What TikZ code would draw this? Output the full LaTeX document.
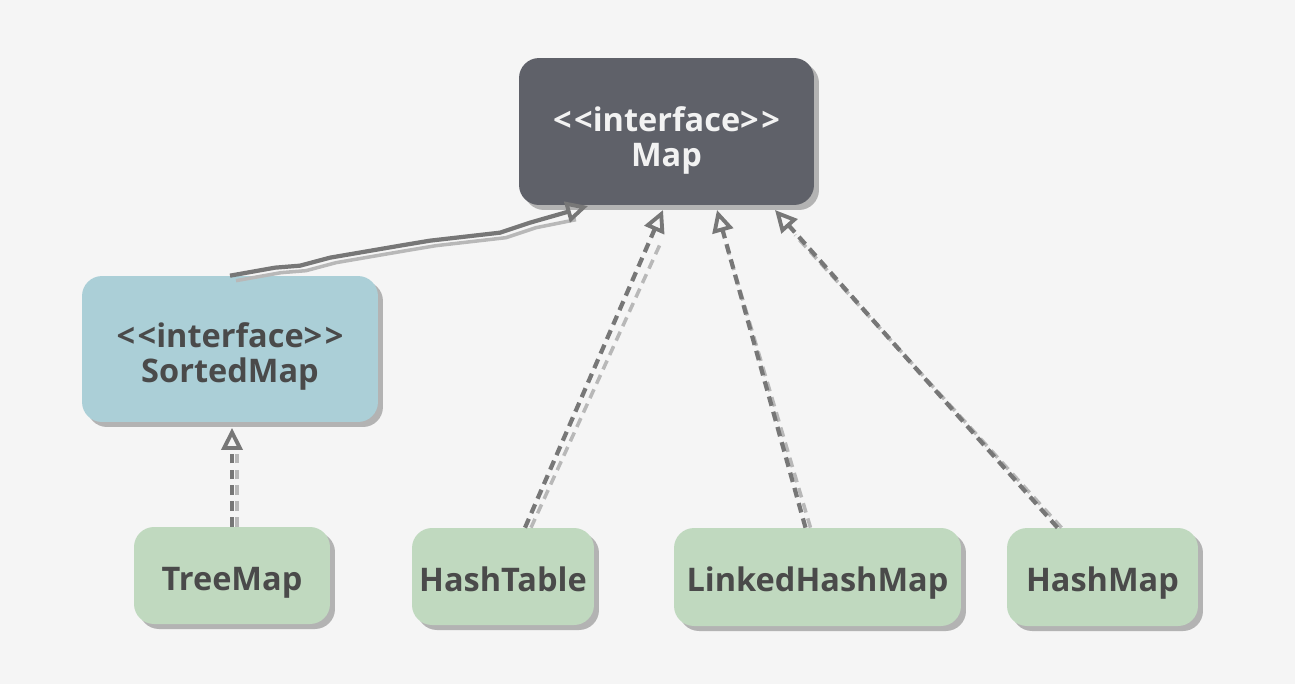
\documentclass[tikz,border=0pt]{standalone}
\usepackage{fontspec}
\setmainfont{Open Sans}
\usetikzlibrary{shadows,arrows.meta}
\definecolor{bg}{HTML}{F5F5F5}
\definecolor{mapfill}{HTML}{5F6169}
\definecolor{sortfill}{HTML}{ABCFD7}
\definecolor{greenfill}{HTML}{C0D9BF}
\definecolor{shade}{HTML}{B3B3B3}
\definecolor{txt}{HTML}{4A4A4A}
\definecolor{wtxt}{HTML}{F2F2F2}
\definecolor{lin}{HTML}{777777}
\definecolor{linshade}{HTML}{B8B8B8}
\newcommand{\lowtext}[2][4.3pt]{\raisebox{-#1}[\height][\depth]{\begin{tabular}{@{}c@{}}#2\end{tabular}}}
\tikzset{
  box/.style={rounded corners=0.4cm, inner sep=0pt, align=center,
    font=\fontsize{18.5}{20}\selectfont\bfseries, text=txt,
    drop shadow={shadow xshift=0.1cm, shadow yshift=-0.1cm, fill=shade, opacity=1}},
  mapbox/.style={box, fill=mapfill, text=wtxt},
  sortbox/.style={box, fill=sortfill},
  classbox/.style={box, fill=greenfill},
  realize/.style={draw=lin, line width=2.4pt, dash pattern=on 5.5pt off 3.5pt,
    -{Triangle[open, length=12.5pt, width=12pt, line width=2.2pt]}},
  realizeshade/.style={draw=linshade, line width=2pt, dash pattern=on 5.5pt off 3.5pt},
  inherit/.style={draw=lin, line width=2.4pt,
    -{Triangle[open, length=12.5pt, width=12pt, line width=2.2pt]}},
  inheritshade/.style={draw=linshade, line width=2pt}
}
\begin{document}
\begin{tikzpicture}[x=0.02cm,y=-0.02cm]
\useasboundingbox[fill=bg] (0,0) rectangle (1295,684);

\node[mapbox, minimum width=5.9cm, minimum height=2.94cm] (map) at (666.5,131.5)
  {\lowtext[6pt]{<\kern1.5pt<interface>\kern1.5pt>\\Map}};
\node[sortbox, minimum width=5.92cm, minimum height=2.92cm] (sm) at (230,349)
  {\lowtext[5pt]{<\kern1.5pt<interface>\kern1.5pt>\\SortedMap}};
\node[classbox, minimum width=3.92cm, minimum height=1.94cm] (tm) at (232,575.5) {\lowtext{TreeMap}};
\node[classbox, minimum width=3.64cm, minimum height=1.94cm] (ht) at (503,576.5) {\lowtext{HashTable}};
\node[classbox, minimum width=5.74cm, minimum height=1.96cm] (lhm) at (817.5,577) {\lowtext{LinkedHashMap}};
\node[classbox, minimum width=3.82cm, minimum height=1.96cm] (hm) at (1102.5,577) {\lowtext{HashMap}};

% arrow end points on Map's lower edge
\coordinate (m1) at (588,206);
\coordinate (m2) at (663,210);
\coordinate (m3) at (717,210);
\coordinate (m4) at (775,210);
\coordinate (s1) at (232,428);

% SortedMap -> Map (generalization, hand-drawn)
\draw[inheritshade] ([xshift=0.12cm,yshift=-0.1cm]sm.north) -- ++(45,-8) -- ++(25,-2) -- ++(30,-8) -- ++(70,-12) -- ++(30,-5) -- ++(70,-8) -- ++(30,-10) -- ++(40,-8);
\draw[inherit] (sm.north) -- ++(45,-8) -- ++(25,-2) -- ++(30,-8) -- ++(70,-12) -- ++(30,-5) -- ++(70,-8) -- ++(30,-10) -- (m1);

% TreeMap -> SortedMap
\draw[realizeshade] ([xshift=0.1cm]tm.north) -- ([xshift=0.1cm,yshift=-0.35cm]s1);
\draw[realize] (tm.north) -- (s1);

% HashTable -> Map
\draw[realizeshade] ([xshift=0.56cm]ht.north) -- ([xshift=-0.02cm,yshift=-0.6cm]m2);
\draw[realize] ([xshift=0.44cm]ht.north) -- (m2);

% LinkedHashMap -> Map
\draw[realizeshade] ([xshift=-0.14cm]lhm.north) -- ([xshift=0.16cm,yshift=-0.6cm]m3);
\draw[realize] ([xshift=-0.24cm]lhm.north) -- (m3);

% HashMap -> Map
\draw[realizeshade] ([xshift=-0.82cm]hm.north) -- ([xshift=0.4cm,yshift=-0.5cm]m4);
\draw[realize] ([xshift=-0.9cm]hm.north) -- (m4);
\end{tikzpicture}
\end{document}
